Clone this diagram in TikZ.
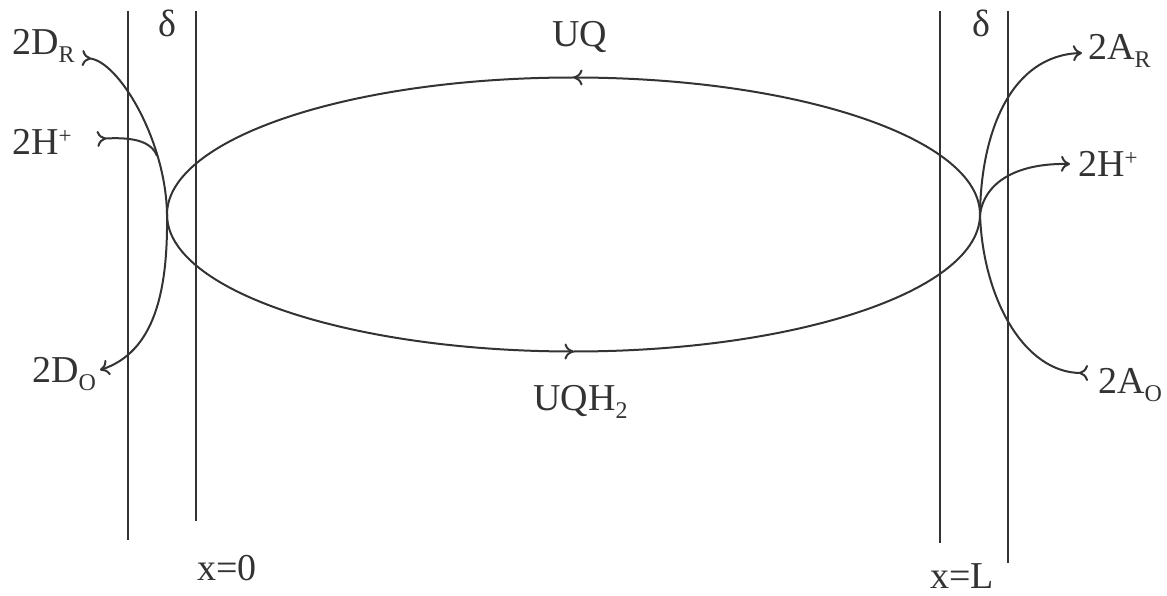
\documentclass[tikz,border=0pt]{standalone}
\usepackage{fontspec}
\setmainfont{Liberation Serif}
\usetikzlibrary{arrows.meta,decorations.markings}
\definecolor{ink}{gray}{0.2}
\newcommand\mysub[1]{\raisebox{-8pt}{\fontsize{24}{24}\selectfont #1}}
\newcommand\mysup[1]{\raisebox{11pt}{\fontsize{23}{23}\selectfont #1}}
\tikzset{
  barb/.tip={Computer Modern Rightarrow[length=9pt,width=16pt]},
  rbarb/.tip={Computer Modern Rightarrow[length=9pt,width=16pt,reversed]},
  ink line/.style={draw=ink,line width=2pt},
  lbl/.style={inner sep=0pt,anchor=base west,text=ink,font=\fontsize{38}{40}\selectfont},
  midarrow/.style={postaction={decorate,decoration={markings,mark=at position 0.5 with {\arrow[ink,line width=2pt]{barb}}}}}
}
\begin{document}
\begin{tikzpicture}[x=1pt,y=-1pt]
\path[use as bounding box] (0,0) rectangle (1167,596);

% membrane boundaries
\coordinate (l1t) at (128,11);  \coordinate (l1b) at (128,540);
\coordinate (l2t) at (196,11);  \coordinate (l2b) at (196,521);
\coordinate (r1t) at (940,11);  \coordinate (r1b) at (940,543);
\coordinate (r2t) at (1008,11); \coordinate (r2b) at (1008,563);
\draw[ink line] (l1t) -- (l1b);
\draw[ink line] (l2t) -- (l2b);
\draw[ink line] (r1t) -- (r1b);
\draw[ink line] (r2t) -- (r2b);

% ellipse (carrier cycle)
\coordinate (C) at (573.5,214.5);
\coordinate (Ltip) at (167,214.5);
\coordinate (Rtip) at (980,214.5);
\draw[ink line,midarrow] (Rtip) arc[start angle=0,end angle=-180,x radius=406.5,y radius=137];
\draw[ink line,midarrow] (Ltip) arc[start angle=180,end angle=0,x radius=406.5,y radius=137];

% labels
\node[lbl] (dl) at (158,37) {δ};
\node[lbl] (dr) at (972,37) {δ};
\node[lbl] (UQ) at (552,47) {UQ};
\node[lbl] (UQH) at (533,410) {UQH\mysub{2}};
\node[lbl] (DR) at (12,55) {2D\mysub{R}};
\node[lbl] (HL) at (12,155) {2H\mysup{+}};
\node[lbl] (DO) at (32,382) {2D\mysub{O}};
\node[lbl] (AR) at (1088,60) {2A\mysub{R}};
\node[lbl] (HR) at (1078,177) {2H\mysup{+}};
\node[lbl] (AO) at (1098,393) {2A\mysub{O}};
\node[lbl] (x0) at (197,580) {x=0};
\node[lbl] (xL) at (930,588) {x=L};

% connector ends
\coordinate (drT) at (82,58);
\coordinate (hlT) at (97,139);
\coordinate (merge) at (157,156);
\coordinate (doH) at (100,370);
\coordinate (aoT) at (1088,373);
\coordinate (arH) at (1082,53);
\coordinate (hrH) at (1070,164);

% left side reaction
\draw[ink line,rbarb-barb] (drT) .. controls (118,60) and (166,140) .. (Ltip)
   .. controls (168,290) and (155,352) .. (doH);
\draw[ink line,rbarb-] (hlT) .. controls (130,137) and (151,140) .. (merge);

% right side reaction
\draw[ink line,rbarb-barb] (aoT) .. controls (1025,373) and (983,300) .. (Rtip)
   .. controls (981,130) and (1012,55) .. (arH);
\draw[ink line,-barb] (Rtip) .. controls (985,180) and (1020,163) .. (hrH);
\end{tikzpicture}
\end{document}
